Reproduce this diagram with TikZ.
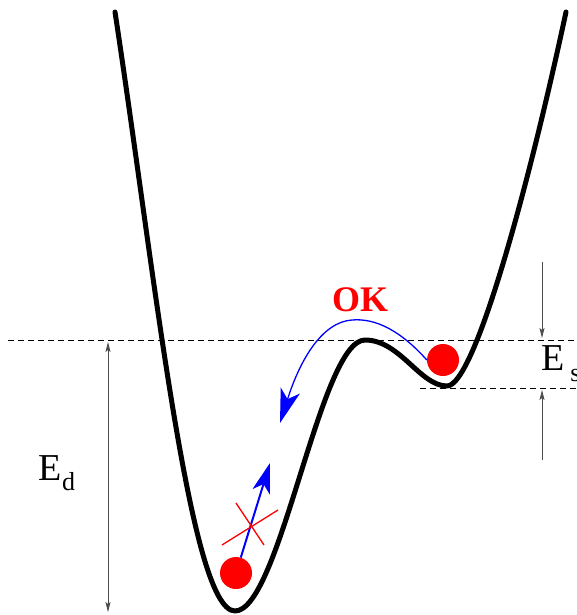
\documentclass[tikz,border=0pt]{standalone}
\usepackage{fontspec}
\setmainfont{Liberation Serif}
\usetikzlibrary{arrows.meta}
\newcommand{\lowsub}[1]{\raisebox{-0.28em}{\fontsize{26}{26}\selectfont #1}}
\tikzset{
  well/.style={line width=5pt, line join=round, line cap=round},
  level/.style={dash pattern=on 6pt off 4pt, line width=0.8pt},
  dim/.style={line width=0.8pt, draw=black!70, -{Stealth[length=10pt,width=5pt,inset=2pt]}},
  ball/.style={circle, fill=red, minimum size=32pt, inner sep=0pt},
  move/.style={draw=blue, line width=1.3pt, -{Stealth[length=34pt,width=20pt,inset=9pt]}},
  blocked/.style={draw=blue, line width=2pt, -{Stealth[length=30pt,width=18pt,inset=8pt]}},
  cross/.style={draw=red, line width=1.3pt},
  lab/.style={font=\fontsize{38}{38}\selectfont, inner sep=0pt}
}
\begin{document}
\begin{tikzpicture}[x=1pt, y=-1pt]
\useasboundingbox (0,0) rectangle (576,615);
% potential curve
\draw[well] (115,12) .. controls (155,275) and (190,611) .. (235,611)
  .. controls (280,611) and (320,340) .. (365,340)
  .. controls (400,340) and (420,386) .. (447,386)
  .. controls (475,386) and (530,180) .. (566,12);
% levels
\coordinate (l1a) at (8,340);
\coordinate (l1b) at (576,340);
\coordinate (l2a) at (420,388);
\coordinate (l2b) at (576,388);
\draw[level] (l1a) -- (l1b);
\draw[level] (l2a) -- (l2b);
% E_s arrows
\coordinate (es1) at (542,262);
\coordinate (es2) at (542,338);
\coordinate (es3) at (542,460);
\coordinate (es4) at (542,390);
\draw[dim] (es1) -- (es2);
\draw[dim] (es3) -- (es4);
\node[lab, anchor=west] (Es) at (541,364) {E\kern6pt\lowsub{s}};
% E_d arrow
\coordinate (ed1) at (108,342);
\coordinate (ed2) at (108,612);
\draw[dim, {Stealth[length=10pt,width=5pt,inset=2pt]}-{Stealth[length=10pt,width=5pt,inset=2pt]}] (ed1) -- (ed2);
\node[lab] (Ed) at (57,473) {E\lowsub{d}};
% balls
\node[ball] (b1) at (443,360) {};
\node[ball] (b2) at (236,573) {};
% OK move
\coordinate (okend) at (280,423);
\draw[move] (b1.west) .. controls (400,330) and (375,318) .. (352,320)
  .. controls (322,322) and (300,360) .. (okend);
\node[font=\fontsize{36}{36}\selectfont\bfseries, text=red, inner sep=0pt] (ok) at (360,300) {OK};
% blocked move
\coordinate (blkend) at (270,463);
\draw[blocked] (b2) -- (blkend);
\coordinate (c1a) at (222,545);
\coordinate (c1b) at (278,510);
\coordinate (c2a) at (236,503);
\coordinate (c2b) at (264,545);
\draw[cross] (c1a) -- (c1b);
\draw[cross] (c2a) -- (c2b);
\end{tikzpicture}
\end{document}
